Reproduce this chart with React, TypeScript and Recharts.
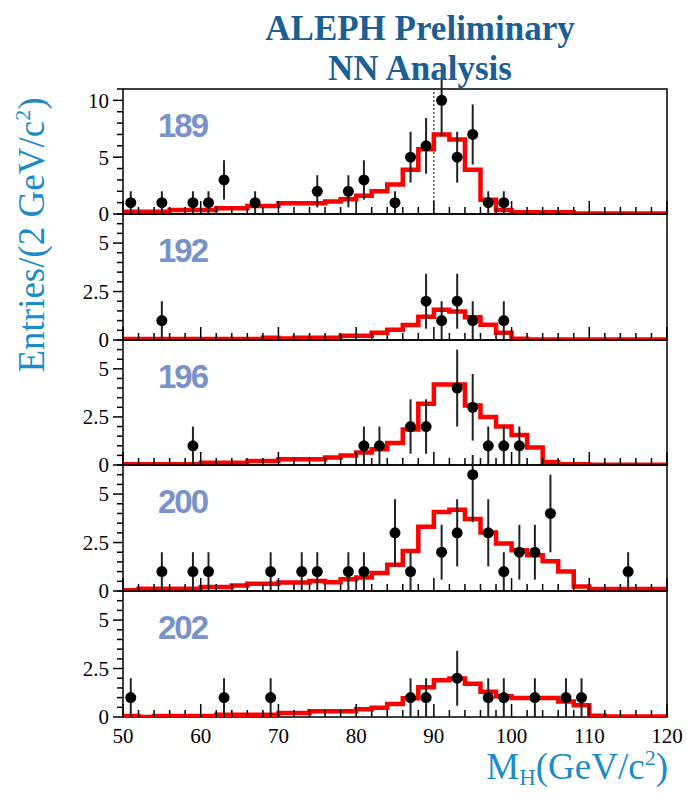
import { ComposedChart, Line, Scatter, ErrorBar, XAxis, YAxis, ReferenceArea, ReferenceLine } from 'recharts';

// centre-of-mass energies, one panel each
const ENERGIES = ['189', '192', '196', '200', '202'];

// left edges of the 2 GeV bins
const BIN_EDGES = [
  50, 52, 54, 56, 58, 60, 62, 64, 66, 68, 70, 72, 74, 76, 78, 80, 82, 84,
  86, 88, 90, 92, 94, 96, 98, 100, 102, 104, 106, 108, 110, 112, 114, 116, 118,
];

// expected background+signal (red histograms)
const HIST_189 = [
  0.2, 0.2, 0.2, 0.35, 0.35, 0.35, 0.5, 0.5, 0.7, 0.7, 0.95, 0.95, 0.95, 1.1, 1.3, 1.6, 2.0, 2.6,
  3.9, 5.7, 7.0, 6.55, 3.9, 1.25, 0.35, 0.15, 0.15, 0.15, 0.15, 0.05, 0.05, 0.05, 0.05, 0.05, 0.05,
];
const HIST_192 = [
  0.05, 0.05, 0.05, 0.05, 0.05, 0.05, 0.05, 0.05, 0.05, 0.12, 0.08, 0.12, 0.12, 0.12, 0.22, 0.22, 0.38, 0.53,
  0.77, 1.2, 1.56, 1.47, 1.17, 0.79, 0.38, 0.07, 0.02, 0.02, 0.02, 0.02, 0.02, 0.02, 0.02, 0.02, 0.02,
];
const HIST_196 = [
  0.04, 0.04, 0.04, 0.04, 0.04, 0.12, 0.12, 0.12, 0.21, 0.21, 0.3, 0.3, 0.3, 0.39, 0.5, 0.65, 0.82, 1.15,
  1.84, 3.19, 4.19, 4.19, 3.1, 2.49, 2.0, 1.56, 0.91, 0.16, 0.04, 0.04, 0.01, 0.01, 0.01, 0.01, 0.01,
];
const HIST_200 = [
  0.04, 0.12, 0.12, 0.12, 0.12, 0.21, 0.21, 0.28, 0.37, 0.37, 0.44, 0.44, 0.52, 0.45, 0.61, 0.7, 0.93, 1.36,
  2.06, 3.32, 4.07, 4.19, 3.72, 3.02, 2.45, 2.1, 1.85, 1.54, 1.01, 0.23, 0.1, 0.1, 0.1, 0.1, 0.1,
];
const HIST_202 = [
  0.05, 0.0, 0.05, 0.05, 0.05, 0.05, 0.12, 0.12, 0.12, 0.12, 0.2, 0.2, 0.3, 0.3, 0.3, 0.4, 0.48, 0.67,
  0.97, 1.53, 1.9, 1.98, 1.72, 1.3, 1.07, 0.98, 0.98, 0.98, 0.8, 0.6, 0.07, 0.02, 0.02, 0.02, 0.02,
];

// observed candidates: bin centre and number of entries
const DATA_X_189 = [51, 55, 59, 61, 63, 67, 75, 79, 81, 85, 87, 89, 91, 93, 95, 97, 99];
const DATA_N_189 = [1, 1, 1, 1, 3, 1, 2, 2, 3, 1, 5, 6, 10, 5, 7, 1, 1];
const DATA_X_192 = [55, 89, 91, 93, 95, 99];
const DATA_N_192 = [1, 2, 1, 2, 1, 1];
const DATA_X_196 = [59, 81, 83, 87, 89, 93, 95, 97, 99, 101];
const DATA_N_196 = [1, 1, 1, 2, 2, 4, 3, 1, 1, 1];
const DATA_X_200 = [55, 59, 61, 69, 73, 75, 79, 81, 85, 87, 91, 93, 95, 97, 99, 101, 103, 105, 115];
const DATA_N_200 = [1, 1, 1, 1, 1, 1, 1, 1, 3, 1, 2, 3, 6, 3, 1, 2, 2, 4, 1];
const DATA_X_202 = [51, 63, 69, 87, 89, 93, 97, 99, 103, 107, 109];
const DATA_N_202 = [1, 1, 1, 1, 1, 2, 1, 1, 1, 1, 1];

const X_TICKS = [
  50, 52, 54, 56, 58, 60, 62, 64, 66, 68, 70, 72, 74, 76, 78, 80, 82, 84, 86,
  88, 90, 92, 94, 96, 98, 100, 102, 104, 106, 108, 110, 112, 114, 116, 118, 120,
];
const Y_TICKS_BIG = [0, 1, 2, 3, 4, 5, 6, 7, 8, 9, 10, 11];
const Y_TICKS_SMALL = [0, 0.5, 1, 1.5, 2, 2.5, 3, 3.5, 4, 4.5, 5, 5.5, 6, 6.5];
const Y_MAJOR_BIG = [0, 5, 10];
const Y_MAJOR_SMALL = [0, 2.5, 5];

const HISTS = [HIST_189, HIST_192, HIST_196, HIST_200, HIST_202];
const DATA_X = [DATA_X_189, DATA_X_192, DATA_X_196, DATA_X_200, DATA_X_202];
const DATA_N = [DATA_N_189, DATA_N_192, DATA_N_196, DATA_N_200, DATA_N_202];

const PANEL_TOPS = [89, 214, 340, 465, 591];
const PLOT_BOTTOM = 717;
const PAD_TOP = 10;
const PAD_BOTTOM = 20;
const SERIF = '"Liberation Serif", "Times New Roman", serif';
const LABEL_BLUE = '#1e8bc9';

function makeXTick(showLabel: boolean) {
  return (props: any) => {
    const { x, y, payload } = props;
    const v = payload.value;
    const major = v % 10 === 0;
    return (
      <g>
        <line x1={x} x2={x} y1={y} y2={y - (major ? 13 : 7)} stroke="#000" strokeWidth={1.5} />
        {showLabel && major && (
          <text x={x} y={y + 26} textAnchor="middle" fontFamily={SERIF} fontSize={21} fill="#000">
            {v}
          </text>
        )}
      </g>
    );
  };
}

function makeYTick(majors: number[]) {
  return (props: any) => {
    const { x, y, payload } = props;
    const v = payload.value;
    const major = majors.includes(v);
    return (
      <g>
        <line x1={x} x2={x - (major ? 10 : 6)} y1={y} y2={y} stroke="#000" strokeWidth={1.5} />
        {major && (
          <text x={x - 14} y={y} dy="0.35em" textAnchor="end" fontFamily={SERIF} fontSize={21} fill="#000">
            {v}
          </text>
        )}
      </g>
    );
  };
}

function Panel({ idx }: { idx: number }) {
  const last = idx === ENERGIES.length - 1;
  const top = PANEL_TOPS[idx];
  const bottom = last ? PLOT_BOTTOM : PANEL_TOPS[idx + 1];
  const ph = bottom - top;
  const xAxisH = last ? 40 : 1;
  const height = PAD_TOP + ph + (last ? 40 : PAD_BOTTOM);
  const ymax = idx === 0 ? 11 : 6.5;

  const hist = HISTS[idx].map((v, i) => ({ x: BIN_EDGES[i], y: v }));
  hist.push({ x: 120, y: HISTS[idx][HISTS[idx].length - 1] });
  const pts = DATA_X[idx].map((x, i) => ({ x, y: DATA_N[idx][i], err: Math.sqrt(DATA_N[idx][i]) }));

  return (
    <div style={{ position: 'absolute', left: 0, top: top - PAD_TOP }}>
      <ComposedChart
        width={687}
        height={height}
        margin={{ top: PAD_TOP, right: 20, bottom: last ? 0 : PAD_BOTTOM - 1, left: 83 }}
      >
        <XAxis
          type="number"
          dataKey="x"
          domain={[50, 120]}
          ticks={X_TICKS}
          interval={0}
          allowDataOverflow
          axisLine={false}
          tickLine={false}
          tickSize={0}
          tickMargin={0}
          height={xAxisH}
          tick={makeXTick(last)}
        />
        <YAxis
          type="number"
          dataKey="y"
          domain={[0, ymax]}
          ticks={idx === 0 ? Y_TICKS_BIG : Y_TICKS_SMALL}
          interval={0}
          allowDataOverflow
          axisLine={false}
          tickLine={false}
          tickSize={0}
          tickMargin={0}
          width={40}
          tick={makeYTick(idx === 0 ? Y_MAJOR_BIG : Y_MAJOR_SMALL)}
        />
        <ReferenceArea x1={50} x2={120} y1={0} y2={ymax} fill="none" stroke="#000" strokeWidth={1.5} />
        {idx === 0 && <ReferenceLine x={90} stroke="#000" strokeWidth={1} strokeDasharray="2 2" />}
        <Line
          data={hist}
          dataKey="y"
          type="stepAfter"
          stroke="#ff0000"
          strokeWidth={4.5}
          dot={false}
          isAnimationActive={false}
        />
        <Scatter
          data={pts}
          fill="#000"
          isAnimationActive={false}
          shape={(p: any) => <circle cx={p.cx} cy={p.cy} r={5.5} fill="#000" />}
        >
          <ErrorBar dataKey="err" direction="y" width={0} stroke="#222" strokeWidth={2} />
        </Scatter>
      </ComposedChart>
    </div>
  );
}

export default function App() {
  return (
    <div style={{ position: 'absolute', left: 0, top: 0, width: 687, height: 794, background: '#fff' }}>
      {ENERGIES.map((_, i) => (
        <Panel key={i} idx={i} />
      ))}
      <svg
        width={687}
        height={794}
        style={{ position: 'absolute', left: 0, top: 0, pointerEvents: 'none' }}
      >
        <text x={420} y={40} textAnchor="middle" fontFamily={SERIF} fontWeight="bold" fontSize={35} fill="#1d5f94">
          ALEPH Preliminary
        </text>
        <text x={420} y={80} textAnchor="middle" fontFamily={SERIF} fontWeight="bold" fontSize={35} fill="#1d5f94">
          NN Analysis
        </text>
        {ENERGIES.map((e, i) => (
          <text
            key={e}
            x={158}
            y={PANEL_TOPS[i] + 48}
            fontFamily='"Liberation Sans", Arial, sans-serif'
            fontWeight="bold"
            fontSize={33}
            letterSpacing={-2}
            fill="#7893c9"
          >
            {e}
          </text>
        ))}
        <text
          transform="rotate(-90)"
          x={-235}
          y={44}
          textAnchor="middle"
          fontFamily={SERIF}
          fontSize={37}
          fill={LABEL_BLUE}
        >
          Entries/(2 GeV/c
          <tspan dy={-14} fontSize={22}>2</tspan>
          <tspan dy={14}>)</tspan>
        </text>
        <text x={668} y={779} textAnchor="end" fontFamily={SERIF} fontSize={37} fill={LABEL_BLUE}>
          M
          <tspan dy={6} fontSize={23}>H</tspan>
          <tspan dy={-6}>(GeV/c</tspan>
          <tspan dy={-14} fontSize={22}>2</tspan>
          <tspan dy={14}>)</tspan>
        </text>
      </svg>
    </div>
  );
}
